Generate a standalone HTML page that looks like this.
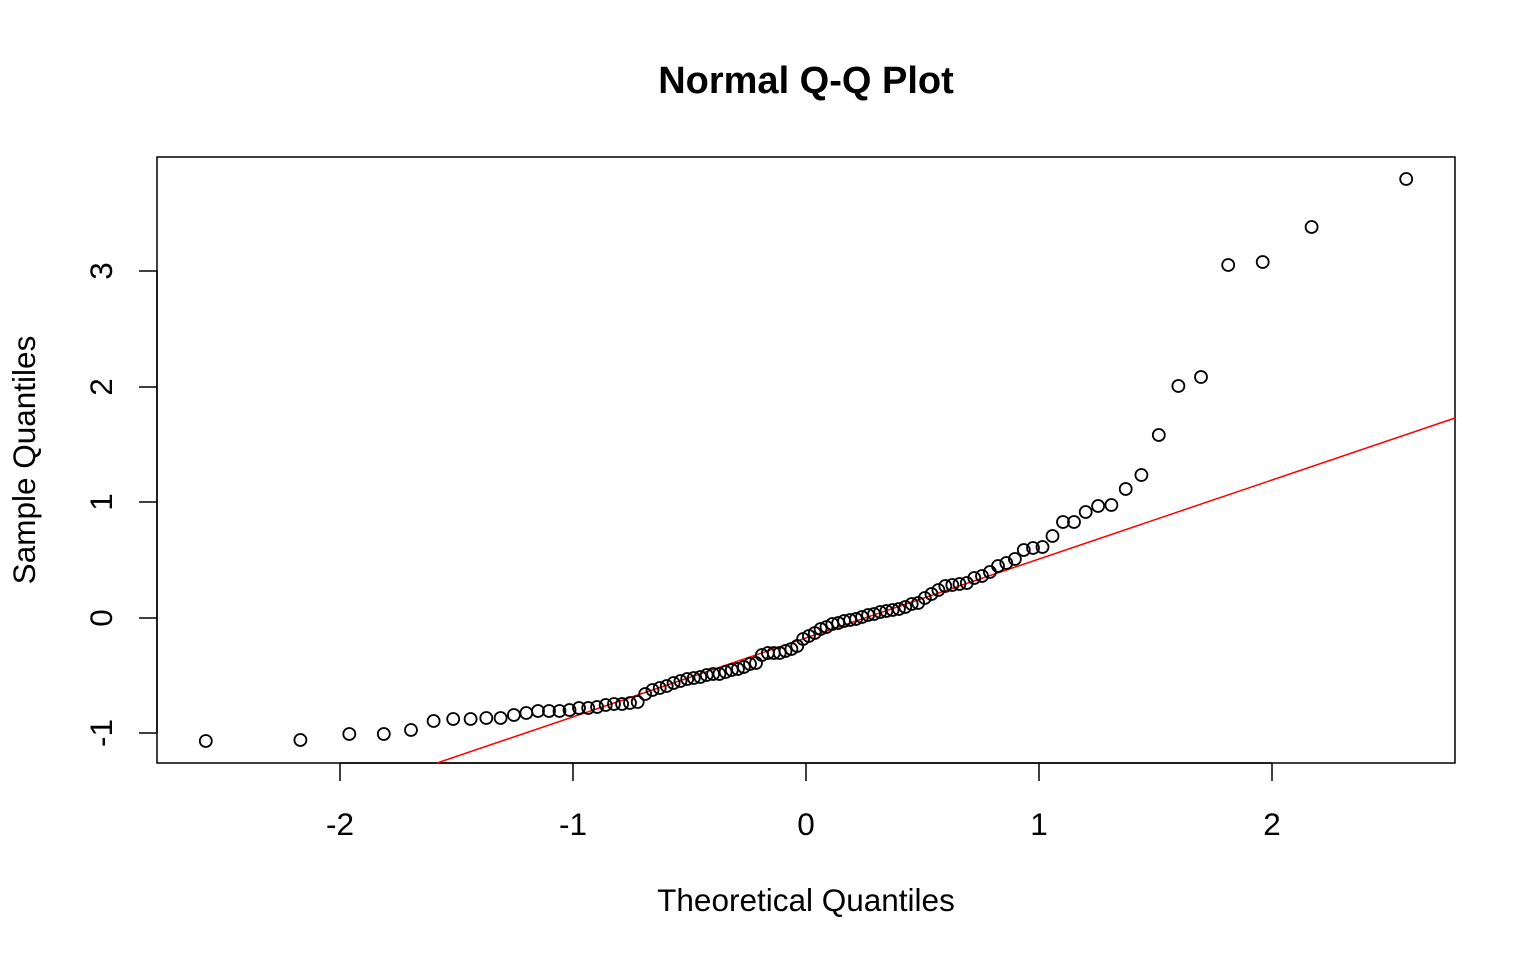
<!DOCTYPE html>
<html><head><meta charset="utf-8"><style>body{margin:0;background:#fff}svg{display:block}text{font-family:"Liberation Sans",Arial,sans-serif}</style></head>
<body>
<svg id="s" width="1536" height="960" xmlns="http://www.w3.org/2000/svg">
<rect width="1536" height="960" fill="#fff"/>
<text x="806" y="93" font-size="38" font-weight="bold" text-anchor="middle">Normal Q-Q Plot</text>
<rect x="157" y="157" width="1298" height="606" fill="none" stroke="#000" stroke-width="1.5"/>
<g stroke="#000" stroke-width="1.5">
<line x1="340" y1="763" x2="1272" y2="763"/>
<line x1="340" y1="763" x2="340" y2="781"/><line x1="573" y1="763" x2="573" y2="781"/><line x1="806" y1="763" x2="806" y2="781"/><line x1="1039" y1="763" x2="1039" y2="781"/><line x1="1272" y1="763" x2="1272" y2="781"/>
<line x1="157" y1="271" x2="157" y2="733"/>
<line x1="139" y1="271" x2="157" y2="271"/><line x1="139" y1="387" x2="157" y2="387"/><line x1="139" y1="502" x2="157" y2="502"/><line x1="139" y1="618" x2="157" y2="618"/><line x1="139" y1="733" x2="157" y2="733"/>
</g>
<g font-size="31.5" text-anchor="middle">
<text x="340" y="835">-2</text><text x="573" y="835">-1</text><text x="806" y="835">0</text><text x="1039" y="835">1</text><text x="1272" y="835">2</text>
<text transform="translate(112,271) rotate(-90)">3</text>
<text transform="translate(112,387) rotate(-90)">2</text>
<text transform="translate(112,502) rotate(-90)">1</text>
<text transform="translate(112,618) rotate(-90)">0</text>
<text transform="translate(112,733) rotate(-90)">-1</text>
<text x="806" y="911">Theoretical Quantiles</text>
<text transform="translate(35,460) rotate(-90)">Sample Quantiles</text>
</g>
<line x1="437" y1="763" x2="1455" y2="418" stroke="#f00" stroke-width="1.5"/>
<g id="pts" fill="none" stroke="#000" stroke-width="1.8"></g>
</svg>
<script>
var ys=[741,740,734,734,730,721,719,719,718,718,715,713,711,711,711,710,708,708,707,705,704,704,703,702,694,690,688,686,683,681,679,678,677,675,674,674,672,670,669,667,664,663,655,653,653,653,651,649,646,639,
636,633,629,627,624,623,621,620,619,617,615,614,612,611,610,609,607,604,603,598,594,590,586,585,584,583,578,576,572,566,563,559,550,548,547,536,522,522,512,506,505,489,475,435,386,377,265,262,227,179];
function qn(p){var a=[-39.69683028665376,220.9460984245205,-275.9285104469687,138.357751867269,-30.66479806614716,2.506628277459239],b=[-54.47609879822406,161.5858368580409,-155.6989798598866,66.80131188771972,-13.28068155288572],c=[-0.007784894002430293,-0.3223964580411365,-2.400758277161838,-2.549732539343734,4.374664141464968,2.938163982698783],d=[0.007784695709041462,0.3224671290700398,2.445134137142996,3.754408661907416];var q,r;
if(p<0.02425){q=Math.sqrt(-2*Math.log(p));return(((((c[0]*q+c[1])*q+c[2])*q+c[3])*q+c[4])*q+c[5])/((((d[0]*q+d[1])*q+d[2])*q+d[3])*q+1);}
if(p>1-0.02425){q=Math.sqrt(-2*Math.log(1-p));return-(((((c[0]*q+c[1])*q+c[2])*q+c[3])*q+c[4])*q+c[5])/((((d[0]*q+d[1])*q+d[2])*q+d[3])*q+1);}
q=p-0.5;r=q*q;return(((((a[0]*r+a[1])*r+a[2])*r+a[3])*r+a[4])*r+a[5])*q/(((((b[0]*r+b[1])*r+b[2])*r+b[3])*r+b[4])*r+1);}
var g=document.getElementById('pts'),h='';
for(var i=0;i<100;i++){var x=806+233*qn((i+0.5)/100);h+='<circle cx="'+x.toFixed(1)+'" cy="'+ys[i]+'" r="6"/>';}
g.innerHTML=h;
</script>
</body></html>
